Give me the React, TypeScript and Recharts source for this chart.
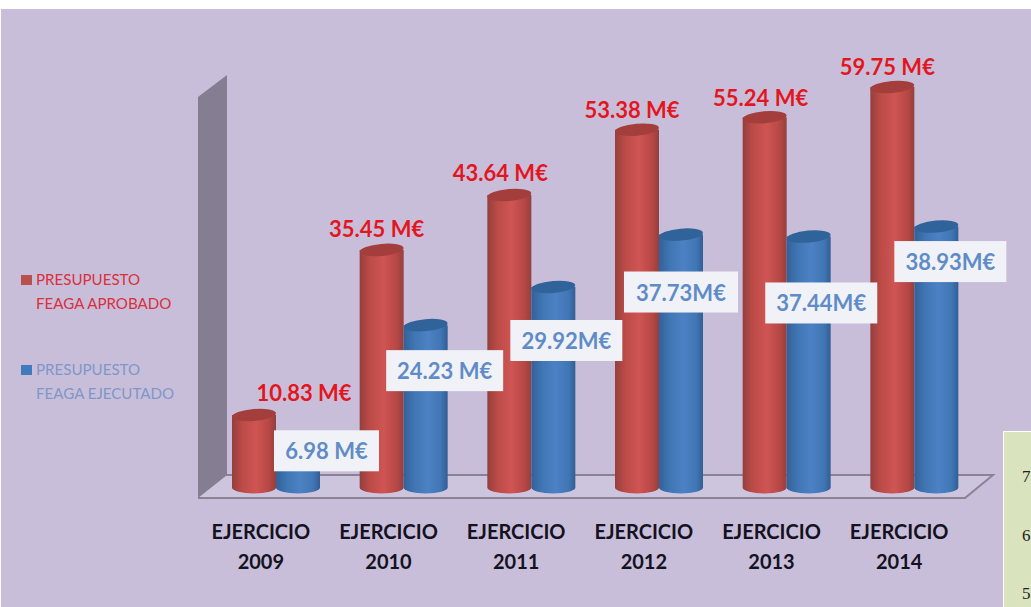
import React from "react";
import { BarChart, Bar, XAxis, YAxis, LabelList, Legend, Customized } from "recharts";

const categories = ["EJERCICIO 2009", "EJERCICIO 2010", "EJERCICIO 2011", "EJERCICIO 2012", "EJERCICIO 2013", "EJERCICIO 2014"];
const aprobado = [10.83, 35.45, 43.64, 53.38, 55.24, 59.75];
const ejecutado = [6.98, 24.23, 29.92, 37.73, 37.44, 38.93];
const aprobadoLabels = ["10.83 M€", "35.45 M€", "43.64 M€", "53.38 M€", "55.24 M€", "59.75 M€"];
const ejecutadoLabels = ["6.98 M€", "24.23 M€", "29.92M€", "37.73M€", "37.44M€", "38.93M€"];
const seriesNames = ["PRESUPUESTO FEAGA APROBADO", "PRESUPUESTO FEAGA EJECUTADO"];
const sideTicks = ["7", "6", "5"];

const data = categories.map((name, i) => ({ name, aprobado: aprobado[i], ejecutado: ejecutado[i] }));

const redOffsets = [[50, -22], [-5, -21], [-9, -22], [-5, -20], [-4, -20], [-5, -20]];
const blueBoxes = [[28.5, 10, 105], [19, 45.5, 117], [13, 53.5, 112], [0, 57.4, 114], [12.6, 66.4, 112], [14, 35, 112]];

const Cylinder = (p: any) => {
  const { x, y, width, height, gradId, top } = p;
  const cx = x + width / 2;
  const rx = width / 2;
  const ry = 6;
  const bottom = y + height;
  return (
    <g>
      <path
        d={`M${x},${y} L${x},${bottom} A${rx},${ry} 0 0 0 ${x + width},${bottom} L${x + width},${y} Z`}
        fill={`url(#${gradId})`}
      />
      <ellipse cx={cx} cy={y} rx={rx} ry={ry} fill={top} transform={`rotate(-5 ${cx} ${y})`} />
    </g>
  );
};

const RedLabel = (p: any) => {
  const { x, y, width, index } = p;
  const [dx, dy] = redOffsets[index];
  return (
    <text
      x={x + width / 2 + dx}
      y={y + dy}
      textAnchor="middle"
      dominantBaseline="central"
      fontFamily="Lato"
      fontWeight={700}
      fontSize={22}
      fill="#e2161f"
    >
      {aprobadoLabels[index]}
    </text>
  );
};

const BlueLabel = (p: any) => {
  const { x, y, width, index } = p;
  const [dx, dy, w] = blueBoxes[index];
  const cx = x + width / 2 + dx;
  const cy = y + dy;
  return (
    <g>
      <rect x={cx - w / 2} y={cy - 20.5} width={w} height={41} fill="#f1f2f7" />
      <text
        x={cx}
        y={cy}
        textAnchor="middle"
        dominantBaseline="central"
        fontFamily="Lato"
        fontWeight={700}
        fontSize={22}
        fill="#5f8cc6"
      >
        {ejecutadoLabels[index]}
      </text>
    </g>
  );
};

const CategoryTick = (p: any) => {
  const { x, y, payload } = p;
  const [a, b] = String(payload.value).split(" ");
  return (
    <g fontFamily="Lato" fontWeight={700} fontSize={20} fill="#14121f" textAnchor="middle">
      <text x={x - 15} y={y + 45}>{a}</text>
      <text x={x - 15} y={y + 75}>{b}</text>
    </g>
  );
};

const Stage = () => (
  <g>
    <polygon points="198,498 226,475 993,475 965,498" fill="#cdc4dd" />
    <polyline points="226,475 993,475 965,498 198,498" fill="none" stroke="#8b8296" strokeWidth={2} />
    <polygon points="198,97 227,75 227,475 198,498" fill="#857d91" />
  </g>
);

const LegendBox = () => {
  const items = [
    { lines: ["PRESUPUESTO", "FEAGA APROBADO"], square: "#b9504e", color: "#d8303c", top: 267 },
    { lines: ["PRESUPUESTO", "FEAGA EJECUTADO"], square: "#3f7bbd", color: "#7d97c9", top: 357 },
  ];
  return (
    <div style={{ position: "relative", width: 170, height: 160 }}>
      {items.map((it, i) => (
        <div key={i} title={seriesNames[i]} style={{ position: "absolute", left: 0, top: it.top - 267 }}>
          <div style={{ position: "absolute", left: 0, top: 8, width: 11, height: 10, background: it.square }} />
          <div style={{ position: "absolute", left: 15, top: 0, color: it.color, fontFamily: "Lato", fontSize: 15.1, lineHeight: "24px", whiteSpace: "nowrap" }}>
            {it.lines.map((l) => (<div key={l}>{l}</div>))}
          </div>
        </div>
      ))}
    </div>
  );
};

export default function App() {
  return (
    <div style={{ position: "fixed", left: 0, top: 0, width: 1031, height: 607, overflow: "hidden", background: "#fff" }}>
      <div style={{ position: "absolute", left: 1, top: 9, right: 0, bottom: 0, background: "#c9bed9" }} />
      <div style={{ position: "absolute", left: 0, top: 0 }}>
        <BarChart
          width={1031}
          height={607}
          data={data}
          margin={{ top: 18.25, right: 53, bottom: 0, left: 212 }}
          barGap={0}
          barSize={44}
        >
          <defs>
            <linearGradient id="redCyl" x1="0" y1="0" x2="1" y2="0">
              <stop offset="0" stopColor="#93403d" />
              <stop offset="0.22" stopColor="#bb4a47" />
              <stop offset="0.55" stopColor="#cf5553" />
              <stop offset="0.85" stopColor="#b54745" />
              <stop offset="1" stopColor="#93403d" />
            </linearGradient>
            <linearGradient id="blueCyl" x1="0" y1="0" x2="1" y2="0">
              <stop offset="0" stopColor="#33619a" />
              <stop offset="0.25" stopColor="#4076b4" />
              <stop offset="0.55" stopColor="#4c82c4" />
              <stop offset="0.85" stopColor="#4076b4" />
              <stop offset="1" stopColor="#315e94" />
            </linearGradient>
          </defs>
          <Customized component={Stage} />
          <XAxis dataKey="name" axisLine={false} tickLine={false} tickMargin={0} interval={0} height={119.4} tick={<CategoryTick />} />
          <YAxis hide domain={[0, 70]} />
          <Legend layout="vertical" align="center" verticalAlign="middle" wrapperStyle={{ left: 21, top: 267, width: 170 }} content={<LegendBox />} />
          <Bar dataKey="aprobado" isAnimationActive={false} shape={(p: any) => <Cylinder {...p} gradId="redCyl" top="#a43e3c" />}>
            <LabelList dataKey="aprobado" content={<RedLabel />} />
          </Bar>
          <Bar dataKey="ejecutado" isAnimationActive={false} shape={(p: any) => <Cylinder {...p} gradId="blueCyl" top="#2f6399" />}>
            <LabelList dataKey="ejecutado" content={<BlueLabel />} />
          </Bar>
        </BarChart>
      </div>
      <div style={{ position: "absolute", left: 1003, top: 431, width: 40, height: 180, background: "#d9e4bf", borderTop: "1px solid #fff", borderLeft: "1px solid #fff" }}>
        {sideTicks.map((t, i) => (
          <div key={t} style={{ position: "absolute", left: 18, top: 35 + i * 58.5, fontFamily: "Liberation Serif", fontSize: 17, lineHeight: "20px", color: "#222" }}>{t}</div>
        ))}
      </div>
    </div>
  );
}
